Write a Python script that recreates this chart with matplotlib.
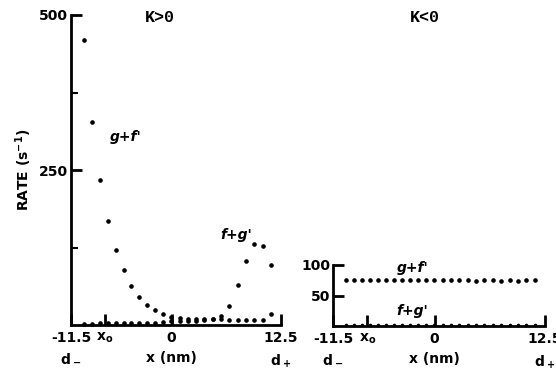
import matplotlib
matplotlib.use("Agg")
import matplotlib.pyplot as plt

plt.rcParams.update({
    "font.family": "DejaVu Sans",
    "font.weight": "bold",
    "axes.labelweight": "bold",
    "font.size": 10,
    "mathtext.fontset": "dejavusans",
    "mathtext.default": "bf",
    "axes.linewidth": 2,
})

# positions along the channel (nm)
x_nm = [-10.0, -9.1, -8.2, -7.3, -6.4, -5.5, -4.6, -3.7, -2.8, -1.9, -1.0, -0.05,
        0.9, 1.85, 2.8, 3.75, 4.7, 5.65, 6.6, 7.55, 8.5, 9.45, 10.4, 11.4]

# K > 0 rates (s^-1)
kpos_gf = [460, 327, 234, 168, 121, 88, 63, 45, 33, 25, 18, 13,
           11, 10, 10, 9, 9, 9, 8, 8, 8, 8, 8, 18]
kpos_fg = [2, 2, 3, 3, 3, 3, 3, 4, 4, 4, 5, 6,
           6, 7, 7, 8, 10, 14, 31, 65, 104, 130, 127, 97]

# K < 0 rates (s^-1)
kneg_gf = [75, 75, 75, 75, 75, 75, 75, 75, 75, 75, 75, 75,
           75, 75, 75, 75, 74, 75, 75, 74, 75, 74, 75, 75]
kneg_fg = [2, 2, 2, 2, 2, 2, 2, 2, 2, 2, 2, 2,
           2, 2, 2, 2, 2, 2, 2, 2, 2, 2, 2, 2]

x0 = -7.6
xtick_pos = [-11.5, x0, 0, 12.5]
xtick_lab = ["-11.5\n$d_-$", "$x_o$", "0\nx (nm)", "12.5\n$d_+$"]

W, H = 556, 372
fig = plt.figure(figsize=(W / 100, H / 100), dpi=100)


def style(ax, ymax):
    for s in ("top", "right"):
        ax.spines[s].set_visible(False)
    ax.set_xlim(-11.5, 12.5)
    ax.set_ylim(0, ymax)
    ax.set_xticks(xtick_pos)
    ax.set_xticklabels(xtick_lab, linespacing=1.6)
    ax.tick_params(direction="in", length=8, width=2, pad=4,
                   labelsize=10)
    ax.tick_params(axis="y", pad=2)


# left panel: K > 0
ax1 = fig.add_axes([71 / W, 1 - 325 / H, 210 / W, 310 / H])
style(ax1, 500)
ax1.set_yticks([250, 500])
ax1.set_yticks([125, 375], minor=True)
ax1.tick_params(axis="y", which="minor", direction="in", length=5, width=1.5)
ax1.set_xticks([], minor=True)
ax1.plot(x_nm, kpos_gf, "o", color="black", ms=2.3, clip_on=False)
ax1.plot(x_nm, kpos_fg, "o", color="black", ms=2.3, clip_on=False)
ax1.set_ylabel("RATE (s$^{-1}$)", fontsize=10, labelpad=4)
ax1.text(-5.3, 303, "g+f'", style="italic", fontsize=10, ha="center", va="center")
ax1.text(7.4, 145, "f+g'", style="italic", fontsize=10, ha="center", va="center")
fig.text(160 / W, 1 - 18 / H, "K>0", family="Liberation Mono", fontsize=12,
         fontweight="bold", ha="center", va="center")

# right panel: K < 0
ax2 = fig.add_axes([333 / W, 1 - 326 / H, 212 / W, 61 / H])
style(ax2, 100)
ax2.set_yticks([50, 100])
ax2.plot(x_nm, kneg_gf, "o", color="black", ms=2.3, clip_on=False)
ax2.plot(x_nm, kneg_fg, "o", color="black", ms=1.6, clip_on=False)
ax2.text(-2.5, 95, "g+f'", style="italic", fontsize=10, ha="center", va="center")
ax2.text(-2.5, 25, "f+g'", style="italic", fontsize=10, ha="center", va="center")
fig.text(425 / W, 1 - 18 / H, "K<0", family="Liberation Mono", fontsize=12,
         fontweight="bold", ha="center", va="center")

fig.savefig("out.png", dpi=100)
